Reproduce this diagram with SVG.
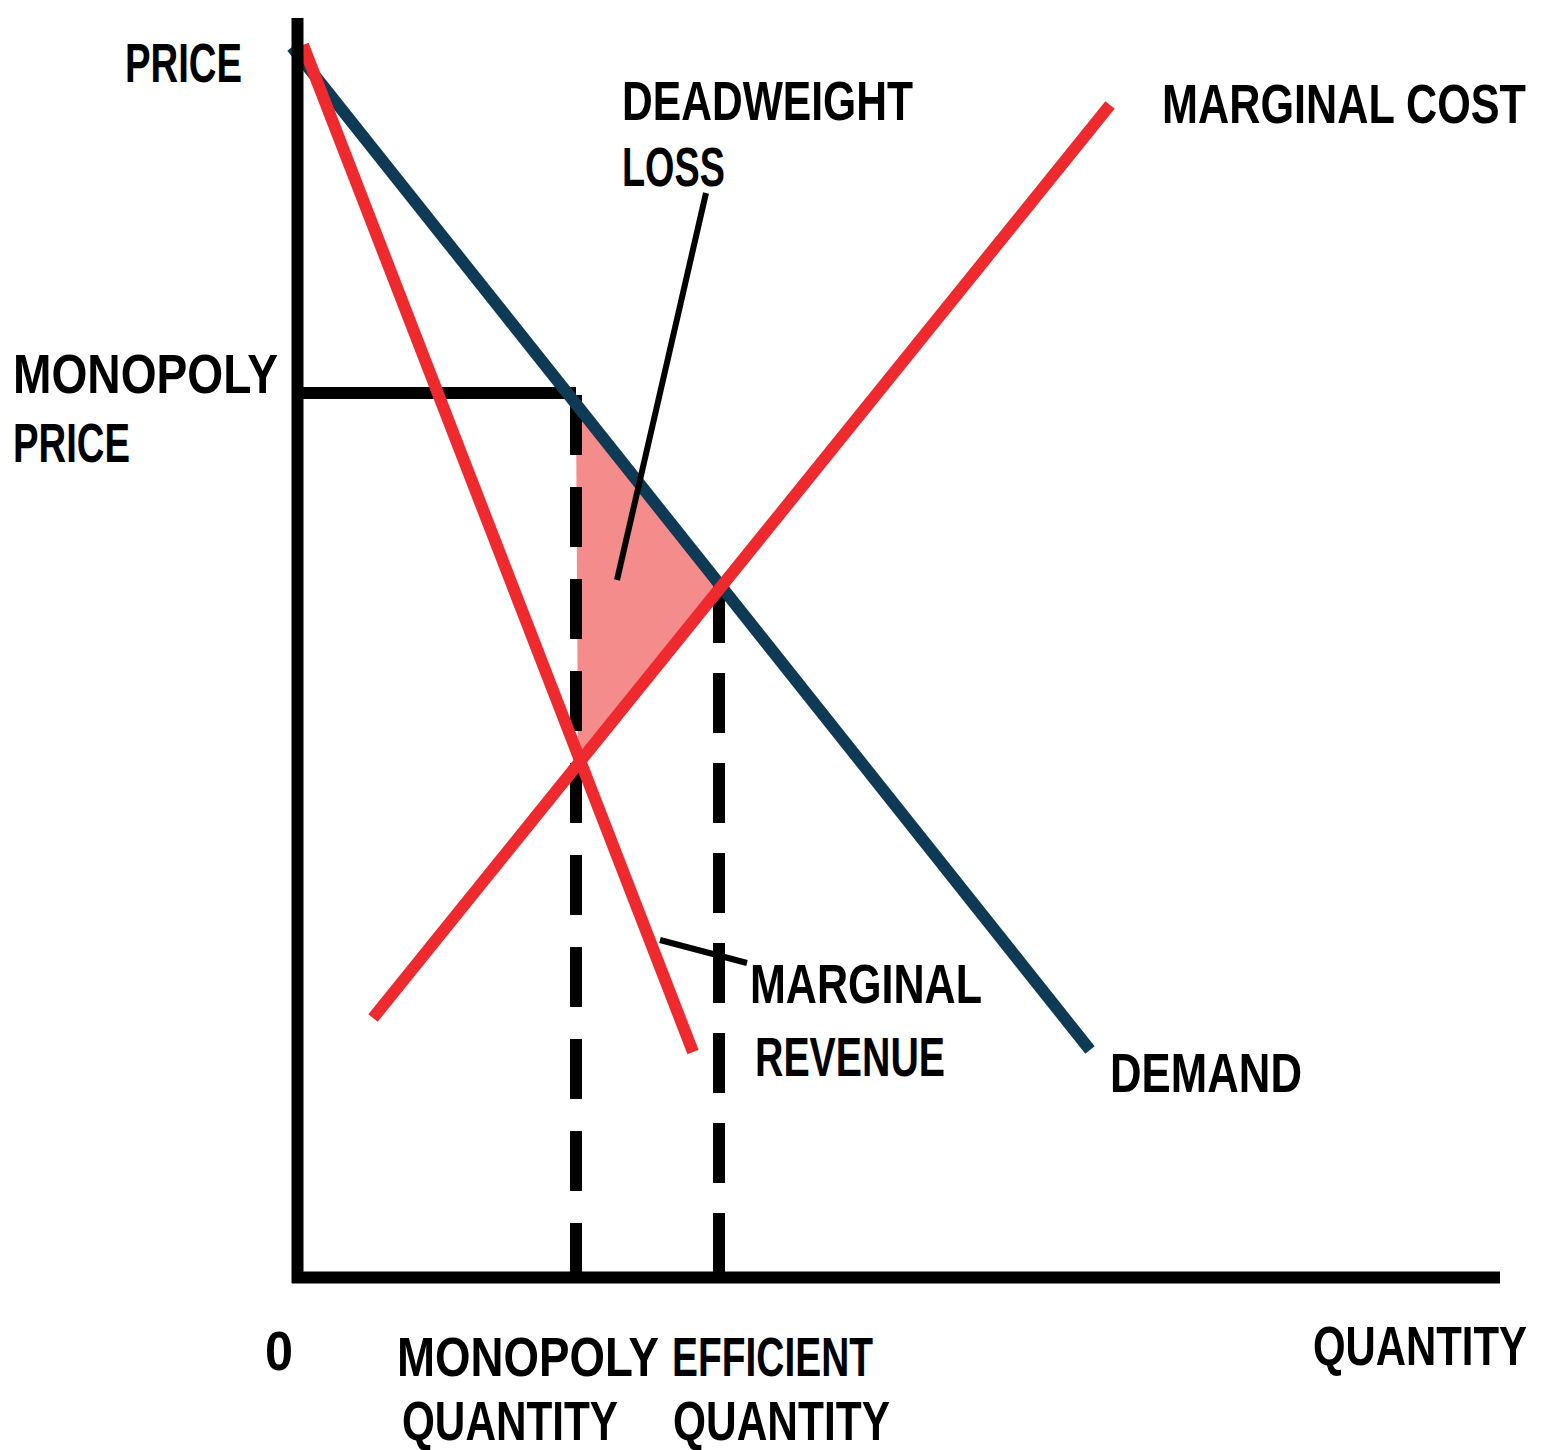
<svg xmlns="http://www.w3.org/2000/svg" width="1550" height="1450" viewBox="0 0 1550 1450">
<style>
.t{font-family:"Liberation Sans",Arial,sans-serif;font-weight:bold;font-size:55px;fill:#000}
.red{stroke:#ee2a2f;stroke-width:12;fill:none}
.blue{stroke:#0e3a56;stroke-width:12;fill:none}
.blk{stroke:#000;stroke-width:12;fill:none}
.ptr{stroke:#000;stroke-width:6;fill:none}
</style>
<rect width="1550" height="1450" fill="#fff"/>
<g id="deadweight-area">
<polygon points="576,402 719,586 578,760" fill="#f48c8c"/>
</g>
<g id="guides">
<path class="blk" d="M298,393 H576"/>
<path class="blk" d="M576,395 V1277" stroke-dasharray="60 32"/>
<path class="blk" d="M719,583 V1277" stroke-dasharray="60 30"/>
</g>
<g id="demand"><line class="blue" x1="292" y1="47" x2="1090" y2="1050"/></g>
<g id="marginal-revenue"><line class="red" x1="303" y1="45" x2="693" y2="1052"/></g>
<g id="marginal-cost"><line class="red" x1="373" y1="1018" x2="1110" y2="105"/></g>
<g id="axes">
<line class="blk" x1="297.5" y1="18" x2="297.5" y2="1283" stroke-width="11"/>
<line class="blk" x1="292" y1="1277.5" x2="1500" y2="1277.5" stroke-width="11"/>
</g>
<g id="connectors">
<line class="ptr" x1="706" y1="193" x2="617" y2="580"/>
<line class="ptr" x1="660" y1="940" x2="747" y2="963"/>
</g>
<g id="labels">
<text class="t" x="125" y="82" textLength="117" lengthAdjust="spacingAndGlyphs">PRICE</text>
<text class="t" x="622" y="120" textLength="291" lengthAdjust="spacingAndGlyphs">DEADWEIGHT</text>
<text class="t" x="622" y="186" textLength="103" lengthAdjust="spacingAndGlyphs">LOSS</text>
<text class="t" x="1162" y="123" textLength="364" lengthAdjust="spacingAndGlyphs">MARGINAL COST</text>
<text class="t" x="13" y="393" textLength="265" lengthAdjust="spacingAndGlyphs">MONOPOLY</text>
<text class="t" x="13" y="462" textLength="117" lengthAdjust="spacingAndGlyphs">PRICE</text>
<text class="t" x="750" y="1003" textLength="232" lengthAdjust="spacingAndGlyphs">MARGINAL</text>
<text class="t" x="755" y="1076" textLength="190" lengthAdjust="spacingAndGlyphs">REVENUE</text>
<text class="t" x="1110" y="1092" textLength="192" lengthAdjust="spacingAndGlyphs">DEMAND</text>
<text class="t" x="265" y="1370" textLength="28" lengthAdjust="spacingAndGlyphs">0</text>
<text class="t" x="397" y="1376" textLength="262" lengthAdjust="spacingAndGlyphs">MONOPOLY</text>
<text class="t" x="402" y="1440" textLength="216" lengthAdjust="spacingAndGlyphs">QUANTITY</text>
<text class="t" x="672" y="1376" textLength="201" lengthAdjust="spacingAndGlyphs">EFFICIENT</text>
<text class="t" x="673" y="1440" textLength="217" lengthAdjust="spacingAndGlyphs">QUANTITY</text>
<text class="t" x="1313" y="1365" textLength="214" lengthAdjust="spacingAndGlyphs">QUANTITY</text>
</g>
</svg>
